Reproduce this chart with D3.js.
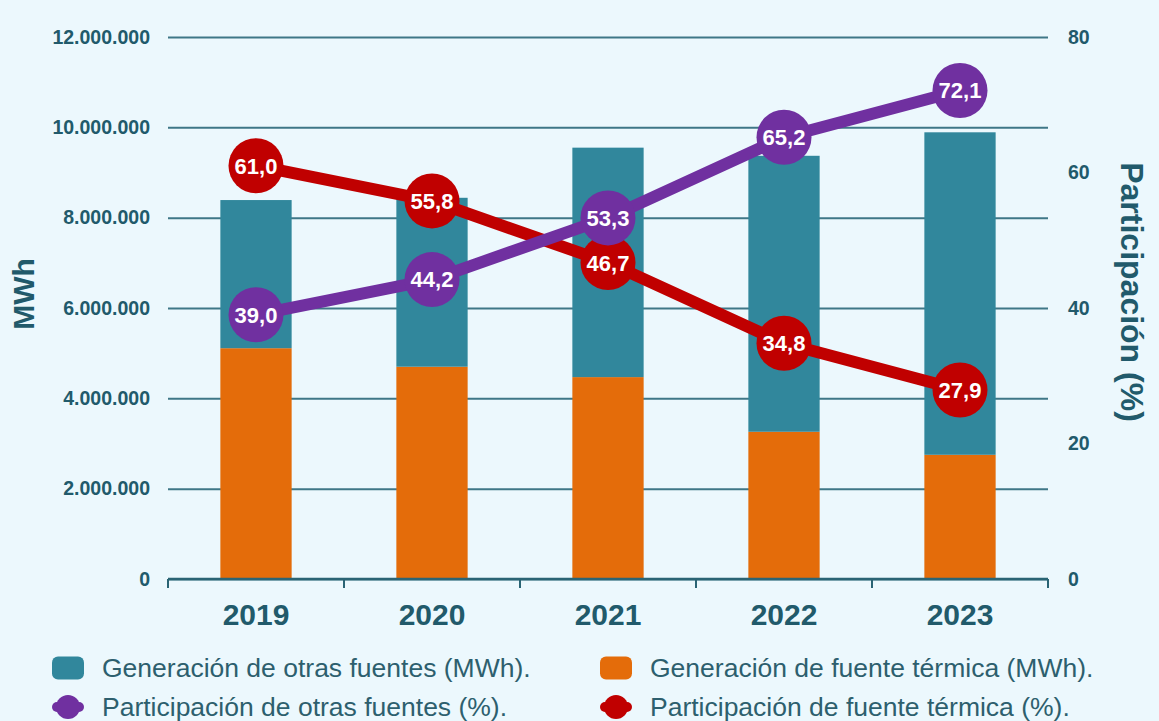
<!DOCTYPE html>
<html>
<head>
<meta charset="utf-8">
<script src="https://cdn.jsdelivr.net/npm/d3@7"></script>
<style>
    body { margin: 0; background: #ecf8fd; }
    svg { display: block; font-family: "Liberation Sans", Arial, sans-serif; }
</style>
</head>
<body>
<div id="chart"></div>
<script>

// data
let years = ["2019", "2020", "2021", "2022", "2023"];
let thermalMWh = [5110000, 4700000, 4470000, 3260000, 2750000];
let otherMWh = [3280000, 3740000, 5080000, 6110000, 7140000];
let otherPct = [39.0, 44.2, 53.3, 65.2, 72.1];
let thermalPct = [61.0, 55.8, 46.7, 34.8, 27.9];
let leftTicks = [0, 2000000, 4000000, 6000000, 8000000, 10000000, 12000000];
let rightTicks = [0, 20, 40, 60, 80];

let colors = {teal: "#31879c", orange: "#e46c0a", purple: "#7030a0", red: "#c00000", text: "#215a6b", grid: "#3f7787"};

let margin = {top: 37, right: 111, bottom: 142, left: 168};
let width = 1159 - margin.left - margin.right;
let height = 721 - margin.top - margin.bottom;

let svg = d3.select("#chart").append("svg")
    .attr("width", 1159)
    .attr("height", 721);

let g = svg.append("g")
    .attr("transform", "translate(" + margin.left + "," + margin.top + ")");

// scales
let x = d3.scaleBand().domain(years).range([0, width]);
let y = d3.scaleLinear().domain([0, 12000000]).range([height, 0]);
let y2 = d3.scaleLinear().domain([0, 80]).range([height, 0]);

let fmt = d3.formatLocale({decimal: ",", thousands: ".", grouping: [3], currency: ["", ""]});
let fmtInt = fmt.format(",d");
let fmtPct = fmt.format(".1f");

// gridlines + left labels
let yAxis = d3.axisLeft(y)
    .tickValues(leftTicks)
    .tickSize(-width)
    .tickPadding(18)
    .tickFormat(fmtInt);

let yAxisG = g.append("g").attr("class", "y-axis").call(yAxis);
yAxisG.select(".domain").remove();
yAxisG.selectAll("line").attr("stroke", colors.grid).attr("stroke-width", 2);
yAxisG.selectAll("text")
    .attr("fill", colors.text)
    .style("font-size", "19.5px")
    .style("font-weight", "bold");

// right labels
let y2Axis = d3.axisRight(y2)
    .tickValues(rightTicks)
    .tickSize(0)
    .tickPadding(20);
let y2AxisG = g.append("g")
    .attr("transform", "translate(" + width + ",0)")
    .call(y2Axis);
y2AxisG.select(".domain").remove();
y2AxisG.selectAll("text")
    .attr("fill", colors.text)
    .style("font-size", "19.5px")
    .style("font-weight", "bold");

// bars (stacked: thermal bottom, others on top)
let barW = x.bandwidth() * 0.405;

g.selectAll(".bar-thermal")
    .data(years)
    .enter().append("rect")
    .attr("class", "bar-thermal")
    .attr("x", d => x(d) + (x.bandwidth() - barW) / 2)
    .attr("width", barW)
    .attr("y", (d, i) => y(thermalMWh[i]))
    .attr("height", (d, i) => height - y(thermalMWh[i]))
    .attr("fill", colors.orange);

g.selectAll(".bar-other")
    .data(years)
    .enter().append("rect")
    .attr("class", "bar-other")
    .attr("x", d => x(d) + (x.bandwidth() - barW) / 2)
    .attr("width", barW)
    .attr("y", (d, i) => y(thermalMWh[i] + otherMWh[i]))
    .attr("height", (d, i) => y(thermalMWh[i]) - y(thermalMWh[i] + otherMWh[i]))
    .attr("fill", colors.teal);

// category axis
let xAxis = d3.axisBottom(x).tickSize(0).tickPadding(25);
let xAxisG = g.append("g")
    .attr("transform", "translate(0," + height + ")")
    .call(xAxis);
xAxisG.select(".domain").remove();
xAxisG.selectAll("text")
    .attr("fill", colors.text)
    .style("font-size", "30px")
    .style("font-weight", "bold");

g.append("line")
    .attr("x1", 0).attr("x2", width)
    .attr("y1", height).attr("y2", height)
    .attr("stroke", "#2a6474").attr("stroke-width", 2.5);

let bounds = years.map(d => x(d)).concat([width]);
g.selectAll(".cat-tick")
    .data(bounds)
    .enter().append("line")
    .attr("class", "cat-tick")
    .attr("x1", d => d).attr("x2", d => d)
    .attr("y1", height).attr("y2", height + 9)
    .attr("stroke", "#2a6474").attr("stroke-width", 2);

// lines
let line = d3.line()
    .x(d => x(d.year) + x.bandwidth() / 2)
    .y(d => y2(d.value));

function drawSeries(values, color) {
    let pts = years.map((yr, i) => ({year: yr, value: values[i]}));
    g.append("path")
        .datum(pts)
        .attr("d", line)
        .attr("fill", "none")
        .attr("stroke", color)
        .attr("stroke-width", 12)
        .attr("stroke-linejoin", "round");

    let dots = g.append("g").selectAll("g")
        .data(pts)
        .enter().append("g")
        .attr("transform", d => "translate(" + (x(d.year) + x.bandwidth() / 2) + "," + y2(d.value) + ")");
    dots.append("circle")
        .attr("r", 27.5)
        .attr("fill", color);
    dots.append("text")
        .attr("text-anchor", "middle")
        .attr("dy", "0.36em")
        .attr("fill", "white")
        .style("font-size", "22px")
        .style("font-weight", "bold")
        .text(d => fmtPct(d.value));
}

drawSeries(thermalPct, colors.red);
drawSeries(otherPct, colors.purple);

// axis titles
svg.append("text")
    .attr("transform", "translate(34,294) rotate(-90)")
    .attr("text-anchor", "middle")
    .attr("fill", colors.text)
    .style("font-size", "30px")
    .style("font-weight", "bold")
    .text("MWh");

svg.append("text")
    .attr("transform", "translate(1121,292) rotate(90)")
    .attr("text-anchor", "middle")
    .attr("fill", colors.text)
    .style("font-size", "32px")
    .style("font-weight", "bold")
    .text("Participación (%)");

// legend
let legendItems = [
    {label: "Generación de otras fuentes (MWh).", color: colors.teal, type: "bar", x: 52, y: 668},
    {label: "Generación de fuente térmica (MWh).", color: colors.orange, type: "bar", x: 600, y: 668},
    {label: "Participación de otras fuentes (%).", color: colors.purple, type: "line", x: 52, y: 707},
    {label: "Participación de fuente térmica (%).", color: colors.red, type: "line", x: 600, y: 707}
];

let legend = svg.append("g").attr("class", "legend");
legendItems.forEach(item => {
    let lg = legend.append("g").attr("transform", "translate(" + item.x + "," + item.y + ")");
    if (item.type === "bar") {
        lg.append("rect")
            .attr("x", 0).attr("y", -11.5)
            .attr("width", 32).attr("height", 23)
            .attr("rx", 6)
            .attr("fill", item.color);
    } else {
        lg.append("line")
            .attr("x1", 5).attr("x2", 27)
            .attr("y1", 0).attr("y2", 0)
            .attr("stroke", item.color)
            .attr("stroke-width", 10)
            .attr("stroke-linecap", "round");
        lg.append("circle")
            .attr("cx", 16).attr("cy", 0)
            .attr("r", 12)
            .attr("fill", item.color);
    }
    lg.append("text")
        .attr("x", 50)
        .attr("y", 0)
        .attr("dy", "0.35em")
        .attr("fill", "#2d5f6e")
        .style("font-size", "26.5px")
        .text(item.label);
});

</script>
</body>
</html>
